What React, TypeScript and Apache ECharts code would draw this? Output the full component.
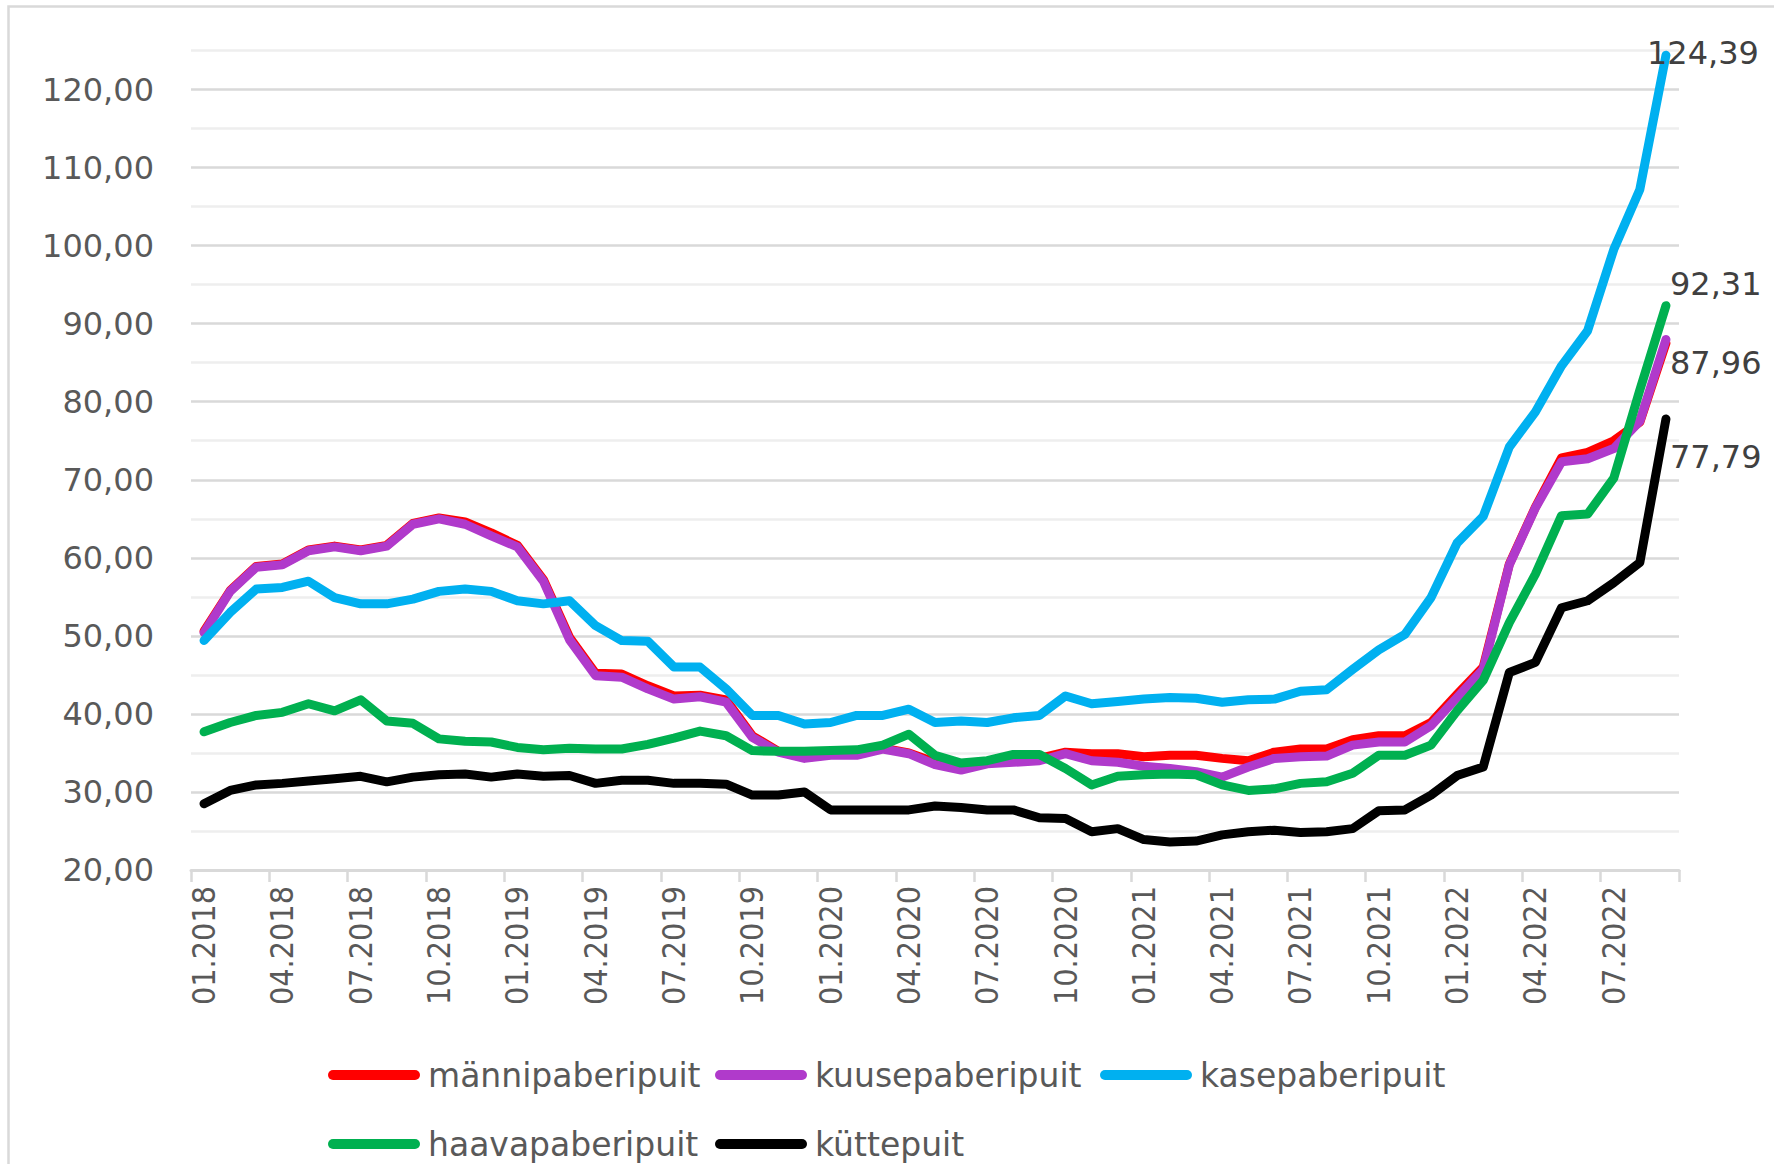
import React, { useEffect, useRef } from 'react';
import * as echarts from 'echarts';

const months = [
  '01.2018', '02.2018', '03.2018', '04.2018', '05.2018', '06.2018', '07.2018', '08.2018', '09.2018', '10.2018', '11.2018', '12.2018',
  '01.2019', '02.2019', '03.2019', '04.2019', '05.2019', '06.2019', '07.2019', '08.2019', '09.2019', '10.2019', '11.2019', '12.2019',
  '01.2020', '02.2020', '03.2020', '04.2020', '05.2020', '06.2020', '07.2020', '08.2020', '09.2020', '10.2020', '11.2020', '12.2020',
  '01.2021', '02.2021', '03.2021', '04.2021', '05.2021', '06.2021', '07.2021', '08.2021', '09.2021', '10.2021', '11.2021', '12.2021',
  '01.2022', '02.2022', '03.2022', '04.2022', '05.2022', '06.2022', '07.2022', '08.2022', '09.2022',
];

const manni = [
  50.6, 55.8, 58.9, 59.2, 61.0, 61.5, 61.0, 61.6, 64.4, 65.1, 64.6, 63.2,
  61.6, 57.2, 49.8, 45.2, 45.1, 43.6, 42.3, 42.4, 41.8, 37.2, 35.2, 34.4,
  34.8, 34.8, 35.6, 35.0, 33.8, 33.0, 33.8, 34.0, 34.3, 35.1, 34.9, 34.9,
  34.5, 34.7, 34.7, 34.3, 34.0, 35.1, 35.5, 35.5, 36.7, 37.2, 37.2, 38.9,
  42.5, 46.0, 59.2, 66.5, 72.8, 73.5, 75.0, 77.4, 87.5,
];

const kuuse = [
  50.4, 55.7, 58.8, 59.1, 60.9, 61.4, 60.9, 61.5, 64.3, 65.0, 64.3, 62.8,
  61.4, 57.0, 49.5, 44.9, 44.7, 43.2, 41.9, 42.2, 41.5, 37.0, 35.1, 34.3,
  34.7, 34.7, 35.5, 34.9, 33.5, 32.8, 33.6, 33.8, 34.0, 34.9, 34.0, 33.8,
  33.3, 33.0, 32.6, 31.9, 33.2, 34.3, 34.5, 34.6, 36.0, 36.4, 36.4, 38.5,
  42.1, 45.7, 59.1, 66.4, 72.3, 72.7, 74.0, 77.5, 87.96,
];

const kase = [
  49.4, 53.0, 56.0, 56.2, 57.0, 54.9, 54.1, 54.1, 54.7, 55.7, 56.0, 55.7,
  54.5, 54.1, 54.5, 51.3, 49.4, 49.3, 46.0, 46.0, 43.2, 39.8, 39.8, 38.7,
  38.9, 39.8, 39.8, 40.6, 38.9, 39.1, 38.9, 39.5, 39.8, 42.3, 41.3, 41.6,
  41.9, 42.1, 42.0, 41.5, 41.8, 41.9, 42.9, 43.1, 45.7, 48.2, 50.2, 54.9,
  61.9, 65.3, 74.2, 78.7, 84.6, 89.1, 99.5, 107.2, 124.39,
];

const haava = [
  37.7, 38.9, 39.8, 40.2, 41.3, 40.4, 41.8, 39.1, 38.8, 36.8, 36.5, 36.4,
  35.7, 35.4, 35.6, 35.5, 35.5, 36.1, 36.9, 37.8, 37.2, 35.3, 35.2, 35.2,
  35.3, 35.4, 36.0, 37.4, 34.7, 33.7, 34.0, 34.8, 34.8, 33.0, 30.9, 32.0,
  32.2, 32.3, 32.2, 30.9, 30.2, 30.4, 31.1, 31.3, 32.4, 34.7, 34.7, 36.0,
  40.4, 44.3, 51.7, 57.9, 65.4, 65.6, 70.2, 81.5, 92.31,
];

const kutte = [
  28.5, 30.2, 30.9, 31.1, 31.4, 31.7, 32.0, 31.3, 31.9, 32.2, 32.3, 31.9,
  32.3, 32.0, 32.1, 31.1, 31.5, 31.5, 31.1, 31.1, 31.0, 29.6, 29.6, 30.0,
  27.7, 27.7, 27.7, 27.7, 28.2, 28.0, 27.7, 27.7, 26.7, 26.6, 24.9, 25.3,
  23.9, 23.6, 23.7, 24.5, 24.9, 25.1, 24.8, 24.9, 25.3, 27.6, 27.7, 29.6,
  32.1, 33.2, 45.3, 46.6, 53.6, 54.5, 56.8, 59.4, 77.79,
];

const seriesNames = ['männipaberipuit', 'kuusepaberipuit', 'kasepaberipuit', 'haavapaberipuit', 'küttepuit'];
const seriesColors = ['#FF0000', '#B03ACB', '#00B0F0', '#00B050', '#000000'];
const seriesData = [manni, kuuse, kase, haava, kutte];
// end label offsets (null = no label)
const endLabelOffsets: (number[] | null)[] = [null, [-1, 23], [-24, -2], [-1, -22], [-1, 38]];

const legendLayout: [number, number][] = [
  [328, 1075],
  [715, 1075],
  [1100, 1075],
  [328, 1144],
  [715, 1144],
];

const fmt = (v: number) => v.toFixed(2).replace('.', ',');
const FONT = '"DejaVu Sans", sans-serif';
const FONT_COND = '"DejaVu Sans Condensed", "DejaVu Sans", sans-serif';
const TEXT = '#595959';

export default function App() {
  const ref = useRef<HTMLDivElement>(null);
  useEffect(() => {
    document.body.style.margin = '0';
    const chart = echarts.init(ref.current as HTMLDivElement, null, { renderer: 'svg' });

    const series = seriesNames.map((name, si) => {
      const arr = seriesData[si];
      const off = endLabelOffsets[si];
      return {
        name,
        type: 'line',
        data: arr.map((v, i) =>
          i === arr.length - 1 && off
            ? {
                value: v,
                label: {
                  show: true,
                  position: 'right',
                  distance: 5,
                  offset: off,
                  formatter: fmt(v),
                  fontFamily: FONT,
                  fontSize: 32,
                  color: '#404040',
                },
              }
            : v
        ),
        symbol: 'circle',
        symbolSize: 0,
        showSymbol: true,
        showAllSymbol: true,
        color: seriesColors[si],
        itemStyle: { color: seriesColors[si] },
        lineStyle: { color: seriesColors[si], width: 9, cap: 'round', join: 'round' },
        emphasis: { disabled: true },
        silent: true,
        z: 2 + si,
      };
    });

    const legends = seriesNames.map((name, si) => ({
      data: [name],
      left: legendLayout[si][0],
      top: legendLayout[si][1] - 20,
      padding: 0,
      itemWidth: 92,
      itemHeight: 10,
      icon: 'path://M5 0H87A5 5 0 0 1 87 10H5A5 5 0 0 1 5 0Z',
      itemStyle: { borderWidth: 0 },
      textStyle: {
        fontFamily: FONT,
        fontSize: 33,
        color: TEXT,
        lineHeight: 40,
        padding: [0, 0, 0, 3],
      },
      selectedMode: false,
    }));

    chart.setOption({
      animation: false,
      backgroundColor: '#ffffff',
      grid: { left: 191, right: 95, top: 50.5, bottom: 294, containLabel: false },
      legend: legends,
      xAxis: {
        type: 'category',
        data: months,
        boundaryGap: true,
        axisLine: { show: true, lineStyle: { color: '#d9d9d9', width: 3 } },
        axisTick: { show: true, interval: 2, length: 12, lineStyle: { color: '#d9d9d9', width: 2.5 } },
        axisLabel: {
          interval: 2,
          rotate: 90,
          margin: 16,
          fontFamily: FONT_COND,
          fontSize: 32,
          color: TEXT,
        },
        splitLine: { show: false },
      },
      yAxis: {
        type: 'value',
        min: 20,
        max: 125,
        interval: 5,
        axisLine: { show: false },
        axisTick: { show: false },
        axisLabel: {
          margin: 37,
          fontFamily: FONT,
          fontSize: 32,
          color: TEXT,
          formatter: (v: number) => (Math.round(v) % 10 === 0 ? fmt(v) : ''),
        },
        splitLine: { show: true, lineStyle: { color: ['#d9d9d9', '#eeeeee'], width: 2.5 } },
      },
      graphic: [
        {
          type: 'rect',
          silent: true,
          z: -10,
          shape: { x: 8.5, y: 6.5, width: 1800, height: 1200 },
          style: { fill: 'none', stroke: '#d9d9d9', lineWidth: 2.5 },
        },
      ],
      series,
    });

    return () => {
      chart.dispose();
    };
  }, []);

  return <div ref={ref} style={{ width: 1774, height: 1164 }} />;
}
